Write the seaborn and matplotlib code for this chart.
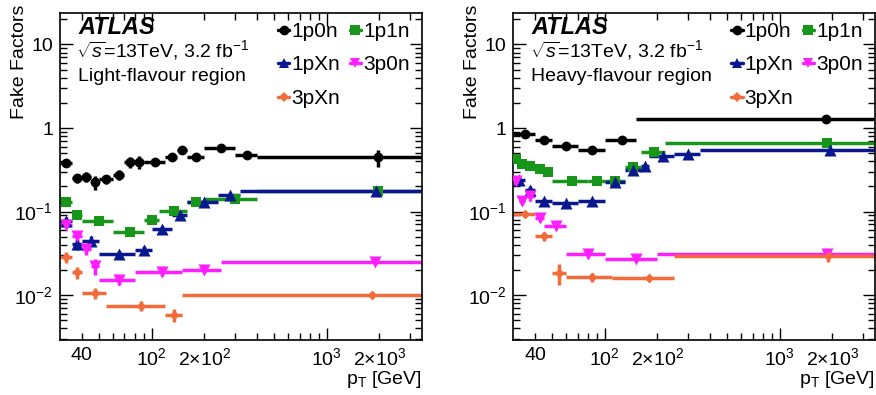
import numpy as np
import matplotlib
matplotlib.use('Agg')
import matplotlib.pyplot as plt
import seaborn as sns
from matplotlib.lines import Line2D
from matplotlib.ticker import FixedLocator, FuncFormatter, NullFormatter

# ---- light-flavour region: bin edges, fake factors, vertical errors ----
lf_1p0n_edges = [30, 35, 40, 45, 50, 60, 70, 80, 90, 120, 140, 160, 200, 300, 400, 3500]
lf_1p0n_vals = [0.378, 0.252, 0.26, 0.224, 0.245, 0.276, 0.388, 0.39, 0.39, 0.446, 0.55, 0.446, 0.576, 0.475, 0.446]
lf_1p0n_err = [0.02, 0.03, 0.035, 0.045, 0.03, 0.035, 0.06, 0.07, 0.03, 0.03, 0.04, 0.02, 0.02, 0.04, 0.1]

lf_1p1n_edges = [30, 35, 40, 60, 90, 110, 160, 200, 400, 3500]
lf_1p1n_vals = [0.131, 0.091, 0.0776, 0.0573, 0.079, 0.102, 0.131, 0.141, 0.178]
lf_1p1n_err = [0.006, 0.005, 0.003, 0.003, 0.004, 0.004, 0.005, 0.005, 0.01]

lf_1pXn_edges = [30, 35, 40, 50, 80, 100, 130, 160, 240, 320, 3500]
lf_1pXn_vals = [0.077, 0.041, 0.0447, 0.031, 0.0346, 0.0617, 0.0916, 0.129, 0.158, 0.178]
lf_1pXn_err = [0.008, 0.006, 0.006, 0.003, 0.004, 0.005, 0.006, 0.007, 0.01, 0.01]

lf_3p0n_edges = [30, 35, 40, 45, 50, 80, 150, 250, 3500]
lf_3p0n_vals = [0.069, 0.051, 0.0356, 0.0224, 0.0151, 0.0187, 0.0201, 0.0246]
lf_3p0n_err = [0.006, 0.006, 0.005, 0.005, 0.002, 0.002, 0.0015, 0.0015]

lf_3pXn_edges = [30, 35, 40, 55, 120, 150, 3500]
lf_3pXn_vals = [0.0285, 0.0187, 0.0105, 0.00745, 0.00576, 0.0100]
lf_3pXn_err = [0.004, 0.003, 0.0015, 0.001, 0.001, 0.0005]

# ---- heavy-flavour region ----
hf_1p0n_edges = [30, 40, 50, 70, 100, 150, 3500]
hf_1p0n_vals = [0.84, 0.724, 0.603, 0.55, 0.724, 1.27]
hf_1p0n_err = [0.03, 0.03, 0.03, 0.03, 0.04, 0.05]

hf_1p1n_edges = [30, 32.5, 35, 40, 45, 50, 80, 100, 130, 160, 220, 3500]
hf_1p1n_vals = [0.427, 0.37, 0.348, 0.324, 0.297, 0.23, 0.23, 0.23, 0.345, 0.51, 0.66]
hf_1p1n_err = [0.02, 0.015, 0.015, 0.015, 0.015, 0.01, 0.01, 0.01, 0.015, 0.02, 0.03]

hf_1pXn_edges = [30, 35, 40, 50, 70, 100, 130, 160, 180, 250, 350, 3500]
hf_1pXn_vals = [0.24, 0.183, 0.135, 0.126, 0.132, 0.225, 0.317, 0.348, 0.458, 0.489, 0.55]
hf_1pXn_err = [0.02, 0.02, 0.008, 0.006, 0.008, 0.01, 0.015, 0.02, 0.02, 0.02, 0.03]

hf_3p0n_edges = [30, 32.5, 35, 40, 45, 60, 100, 200, 3500]
hf_3p0n_vals = [0.232, 0.135, 0.152, 0.0836, 0.0664, 0.031, 0.0272, 0.0313]
hf_3p0n_err = [0.02, 0.015, 0.02, 0.008, 0.005, 0.003, 0.002, 0.003]

hf_3pXn_edges = [30, 40, 50, 60, 110, 250, 3500]
hf_3pXn_vals = [0.093, 0.051, 0.0183, 0.0163, 0.016, 0.029]
hf_3pXn_err = [0.005, 0.006, 0.005, 0.002, 0.001, 0.004]

names = ['1p0n', '1p1n', '1pXn', '3p0n', '3pXn']
colors = ['black', '#17961a', '#0a1890', '#ff1eff', '#f36b3b']
markers = ['o', 's', '^', 'v', 'D']
msizes = [50, 45, 75, 75, 25]

light = [(lf_1p0n_edges, lf_1p0n_vals, lf_1p0n_err),
         (lf_1p1n_edges, lf_1p1n_vals, lf_1p1n_err),
         (lf_1pXn_edges, lf_1pXn_vals, lf_1pXn_err),
         (lf_3p0n_edges, lf_3p0n_vals, lf_3p0n_err),
         (lf_3pXn_edges, lf_3pXn_vals, lf_3pXn_err)]
heavy = [(hf_1p0n_edges, hf_1p0n_vals, hf_1p0n_err),
         (hf_1p1n_edges, hf_1p1n_vals, hf_1p1n_err),
         (hf_1pXn_edges, hf_1pXn_vals, hf_1pXn_err),
         (hf_3p0n_edges, hf_3p0n_vals, hf_3p0n_err),
         (hf_3pXn_edges, hf_3pXn_vals, hf_3pXn_err)]

sns.set_theme(style='ticks')
plt.rcParams['font.family'] = ['Liberation Sans', 'DejaVu Sans']
plt.rcParams['mathtext.fontset'] = 'custom'
plt.rcParams['mathtext.rm'] = 'Liberation Sans'
plt.rcParams['mathtext.it'] = 'Liberation Sans:italic'
plt.rcParams['mathtext.bf'] = 'Liberation Sans:bold'
for key in ['text.color', 'axes.labelcolor', 'xtick.color', 'ytick.color']:
    plt.rcParams[key] = 'black'

fig = plt.figure(figsize=(8.76, 3.95), dpi=100)
ax1 = fig.add_axes([60 / 876, 55 / 395, 362 / 876, 327.3 / 395])
ax2 = fig.add_axes([513.3 / 876, 55 / 395, 361.7 / 876, 327.3 / 395])

xlabels = {40: '40', 200: r'$2{\times}10^{2}$', 2000: r'$2{\times}10^{3}$'}
ylabels = {0.01: r'$10^{-2}$', 0.1: r'$10^{-1}$', 1: '1', 10: '10'}


def draw(ax, edges, vals, errs, color, marker, s):
    edges = np.array(edges, dtype=float)
    centers = (edges[:-1] + edges[1:]) / 2
    ax.errorbar(centers, vals, xerr=[centers - edges[:-1], edges[1:] - centers],
                yerr=errs, fmt='none', ecolor=color, elinewidth=2.5, capsize=0, zorder=2)
    sns.scatterplot(x=centers, y=vals, color=color, marker=marker, s=s,
                    linewidth=0, ax=ax, zorder=3)


for ax, data, region in [(ax1, light, 'Light-flavour region'),
                         (ax2, heavy, 'Heavy-flavour region')]:
    ax.set_xscale('log')
    ax.set_yscale('log')
    for (edges, vals, errs), c, m, s in zip(data, colors, markers, msizes):
        draw(ax, edges, vals, errs, c, m, s)
    ax.set_xlim(30, 3500)
    ax.set_ylim(0.0029, 24)

    ax.xaxis.set_major_locator(FixedLocator([100, 1000]))
    ax.xaxis.set_major_formatter(FuncFormatter(lambda v, p: r'$10^{%d}$' % round(np.log10(v))))
    minors = [40, 50, 60, 70, 80, 90, 200, 300, 400, 500, 600, 700, 800, 900, 2000, 3000]
    ax.xaxis.set_minor_locator(FixedLocator(minors))
    ax.xaxis.set_minor_formatter(FuncFormatter(lambda v, p: xlabels.get(int(round(v)), '')))
    ax.yaxis.set_major_locator(FixedLocator([0.01, 0.1, 1, 10]))
    ax.yaxis.set_major_formatter(FuncFormatter(lambda v, p: ylabels.get(v, '')))
    ymin = [k * 10.0 ** e for e in (-3, -2, -1, 0, 1) for k in range(2, 10)]
    ax.yaxis.set_minor_locator(FixedLocator(ymin))
    ax.yaxis.set_minor_formatter(NullFormatter())

    ax.tick_params(which='both', direction='in', top=True, right=True, labelsize=14,
                   width=1.0, colors='black')
    ax.tick_params(which='major', length=9, pad=5)
    ax.tick_params(which='minor', length=5, pad=5)
    for sp in ax.spines.values():
        sp.set_linewidth(1.2)
        sp.set_color('black')

    ax.set_ylabel('Fake Factors', fontsize=14, loc='top', color='black')
    ax.yaxis.set_label_coords(-0.088, 1.024)
    ax.set_xlabel(r'$\mathrm{p}_{\mathrm{T}}$ [GeV]', fontsize=14, loc='right',
                  labelpad=0, color='black')

    ax.text(0.05, 0.935, 'ATLAS', transform=ax.transAxes, fontsize=17,
            fontweight='bold', fontstyle='italic', va='baseline', color='black')
    ax.text(0.045, 0.866, r'$\sqrt{s}$=13TeV, 3.2 fb$^{-1}$', transform=ax.transAxes,
            fontsize=14, va='baseline', color='black')
    ax.text(0.05, 0.79, region, transform=ax.transAxes, fontsize=14, va='baseline',
            color='black')

    handles = [Line2D([], [], color=c, marker=m, lw=2.5, ms=7 if m != 'D' else 5,
                      markeredgewidth=0) for c, m in zip(colors, markers)]
    order = [0, 2, 4, 1, 3]
    leg = ax.legend([handles[i] for i in order], [names[i] for i in order], ncol=2,
                    loc='upper left', bbox_to_anchor=(0.602, 0.972), frameon=False,
                    fontsize=15, handlelength=0.55, handletextpad=0.1,
                    columnspacing=0.45, labelspacing=0.7, borderpad=0, borderaxespad=0)
    for t in leg.get_texts():
        t.set_color('black')

fig.savefig('out.png', dpi=100)
